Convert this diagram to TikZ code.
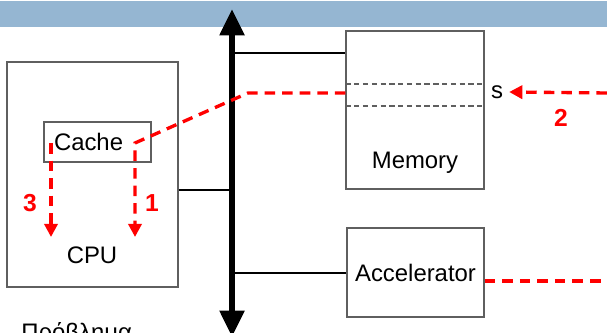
\documentclass[tikz,border=0pt]{standalone}
\usepackage{fontspec}
\setmainfont{Liberation Sans}
\usetikzlibrary{arrows.meta}
\definecolor{bandBlue}{RGB}{149, 182, 210}
\definecolor{boxGray}{RGB}{95, 95, 95}
\definecolor{flowRed}{RGB}{255, 0, 0}

\begin{document}
\begin{tikzpicture}[x=0.02cm, y=-0.02cm,
    box/.style={draw=boxGray, line width=0.7pt, inner sep=0pt},
    wire/.style={black, line width=0.6pt},
    flow/.style={flowRed, line width=1.9pt, dash pattern=on 6pt off 4pt},
    flowtip/.style={-{Triangle[width=7.5pt, length=7.5pt]}},
    num/.style={flowRed, font=\fontsize{14}{16}\bfseries},
    lbl/.style={font=\fontsize{13.6}{16}\selectfont}]
      \useasboundingbox (0,0) rectangle (607,333);
      \clip (0,0) rectangle (607,333);

      % Title band
      \fill[bandBlue] (0,1) rectangle (607,27);

      % Boxes
      \node[box, minimum width=3.42cm, minimum height=4.5cm] (cpu) at (92.5,174.5) {};
      \node[lbl] (cpulbl) at (92,255) {CPU};
      \node[box, lbl, minimum height=0.8cm, text width=1.74cm, inner xsep=0.2cm, align=left]
        (cache) at (97.5,142) {Cache};
      \node[box, minimum width=2.76cm, minimum height=3.16cm] (mem) at (415,110) {};
      \node[lbl] (memlbl) at (415,163) {Memory};
      \node[box, lbl, minimum width=2.74cm, minimum height=1.78cm] (acc) at (415.5,272.5) {Accelerator};
      \node[lbl] (slot) at (497,92) {s};

      % Memory slot
      \draw[boxGray, line width=0.7pt, dash pattern=on 3pt off 2pt] (mem.west |- 0,84) -- (mem.east |- 0,84);
      \draw[boxGray, line width=0.7pt, dash pattern=on 3pt off 2pt] (mem.west |- 0,106) -- (mem.east |- 0,106);

      % System bus
      \coordinate (busTop) at (232,9);
      \coordinate (busBot) at (232,337);
      \draw[wire] (232,53) -- (mem.west |- 0,53);
      \draw[wire] (cpu.east |- 0,190) -- (232,190);
      \draw[wire] (232,273) -- (acc.west |- 0,273);
      \draw[line width=3.4pt, {Triangle[width=13.5pt, length=15pt]}-{Triangle[width=13.5pt, length=15pt]}]
        (busTop) -- (busBot);

      % Data flow
      \coordinate (inS) at (607,93);
      \coordinate (accOut) at (607,281);
      \coordinate (cpuIn1) at (135,237);
      \coordinate (cpuIn3) at (51,237);
      \draw[flow, flowtip] (mem.west |- 0,93) -- (248,93) -- (135,143) -- (cpuIn1);
      \draw[flow, flowtip] (51,143) -- (cpuIn3);
      \draw[flow, flowtip] (inS) -- (slot.east);
      \draw[flow] (acc.east |- 0,281) -- (accOut);
      \node[num] (n1) at (152,203) {1};
      \node[num] (n2) at (561,118) {2};
      \node[num] (n3) at (30,203) {3};

      % Slide text below
      \node[lbl, anchor=base west, inner sep=0pt] (prob) at (21,340) {Πρόβλημα};
\end{tikzpicture}
\end{document}
